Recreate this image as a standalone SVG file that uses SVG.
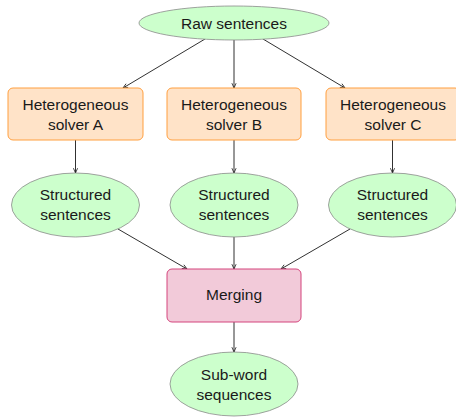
<svg xmlns="http://www.w3.org/2000/svg" width="456" height="418" viewBox="0 0 456 418">
<style>
.t{font-family:"Liberation Sans",Arial,sans-serif;font-size:15.5px;fill:#1a1a1a;text-anchor:middle}
.g{fill:#ccffcc;stroke:#8a8a8a;stroke-width:0.8}
.o{fill:#ffe3c8;stroke:#ff9f3f;stroke-width:1}
.m{fill:#f2cad9;stroke:#d4457d;stroke-width:1}
.c{stroke:#1a1a1a;stroke-width:0.9;fill:none;marker-end:url(#a)}
</style>
<defs>
<marker id="a" viewBox="0 0 10 10" refX="9" refY="5" markerWidth="6" markerHeight="6" markerUnits="userSpaceOnUse" orient="auto">
<path d="M1,1.5 L9,5 L1,8.5" fill="none" stroke="#1a1a1a" stroke-width="1.3"/>
</marker>
</defs>
<rect width="456" height="418" fill="#fff"/>
<g id="connectors">
<line class="c" x1="205" y1="39" x2="123" y2="88"/>
<line class="c" x1="234" y1="40" x2="234" y2="88"/>
<line class="c" x1="263" y1="39" x2="345" y2="88"/>
<line class="c" x1="75.5" y1="140" x2="75.5" y2="173"/>
<line class="c" x1="234" y1="140" x2="234" y2="173"/>
<line class="c" x1="392.5" y1="140" x2="392.5" y2="173"/>
<line class="c" x1="118" y1="229" x2="187" y2="269"/>
<line class="c" x1="234" y1="237" x2="234" y2="269"/>
<line class="c" x1="350" y1="229" x2="281" y2="269"/>
<line class="c" x1="234" y1="322" x2="234" y2="352"/>
</g>
<g id="raw">
<ellipse class="g" cx="234" cy="23" rx="95" ry="17"/>
<text class="t" x="234" y="29">Raw sentences</text>
</g>
<g id="solverA">
<rect class="o" x="8" y="88" width="135" height="52" rx="5"/>
<text class="t" x="75.5" y="110">Heterogeneous</text>
<text class="t" x="75.5" y="130">solver A</text>
</g>
<g id="solverB">
<rect class="o" x="167" y="88" width="134" height="52" rx="5"/>
<text class="t" x="234" y="110">Heterogeneous</text>
<text class="t" x="234" y="130">solver B</text>
</g>
<g id="solverC">
<rect class="o" x="326" y="88" width="134" height="52" rx="5"/>
<text class="t" x="393" y="110">Heterogeneous</text>
<text class="t" x="393" y="130">solver C</text>
</g>
<g id="structA">
<ellipse class="g" cx="75.5" cy="205" rx="64" ry="32"/>
<text class="t" x="75.5" y="200">Structured</text>
<text class="t" x="75.5" y="220">sentences</text>
</g>
<g id="structB">
<ellipse class="g" cx="234" cy="205" rx="64" ry="32"/>
<text class="t" x="234" y="200">Structured</text>
<text class="t" x="234" y="220">sentences</text>
</g>
<g id="structC">
<ellipse class="g" cx="392.5" cy="205" rx="64" ry="32"/>
<text class="t" x="392.5" y="200">Structured</text>
<text class="t" x="392.5" y="220">sentences</text>
</g>
<g id="merging">
<rect class="m" x="167" y="269" width="134" height="53" rx="5"/>
<text class="t" x="234" y="300">Merging</text>
</g>
<g id="subword">
<ellipse class="g" cx="234" cy="384" rx="64" ry="32"/>
<text class="t" x="234" y="380">Sub-word</text>
<text class="t" x="234" y="400">sequences</text>
</g>
</svg>
